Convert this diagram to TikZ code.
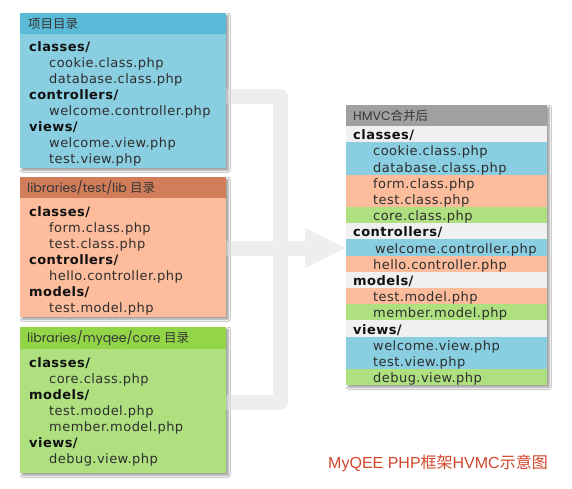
\documentclass[tikz,border=0pt]{standalone}
\usepackage{fontspec}
\setmainfont{DejaVu Sans}[LetterSpace=3.5]
\newfontfamily\cjk{Noto Sans CJK SC}
\newfontfamily\hdf{Poppins}
\newfontfamily\capf{Liberation Sans}
\usetikzlibrary{shadows.blur}
\definecolor{blueH}{HTML}{5ABAD7}
\definecolor{blueB}{HTML}{89CEE1}
\definecolor{salH}{HTML}{D27D5A}
\definecolor{salB}{HTML}{FDBC9B}
\definecolor{grnH}{HTML}{92D648}
\definecolor{grnB}{HTML}{AEE080}
\definecolor{gryH}{HTML}{A0A0A0}
\definecolor{gryB}{HTML}{F0F0F0}
\definecolor{bandc}{HTML}{EEEEEE}
\definecolor{capred}{HTML}{D2462A}
\definecolor{dirc}{HTML}{111111}
\definecolor{itmc}{HTML}{2E2E2E}
\definecolor{hdrc}{HTML}{363636}
\newcommand\rrow[4]{%
  \node[rowbg, fill=#2] (rb#1) at (346,{126+16.2*#1}) {};
  \node[#3] (rt#1) at (rb#1.west) {#4};}
\begin{document}
\begin{tikzpicture}[x=1pt,y=-1pt,
  box/.style={anchor=north west, inner sep=0, outer sep=0, minimum width=206pt,
    blur shadow={shadow xshift=2.2pt, shadow yshift=-2.2pt, shadow blur radius=2pt, shadow blur steps=6, shadow opacity=22}},
  hdr/.style={anchor=north west, inner sep=0, outer sep=0, minimum width=206pt},
  htxt/.style={anchor=west, inner sep=0, text=hdrc, font=\fontsize{12.5}{14}\hdf},
  dirt/.style={anchor=west, inner sep=0, text height=10pt, text depth=0pt, text=dirc,
    font=\fontsize{13}{15}\selectfont\bfseries},
  itm/.style={anchor=west, inner sep=0, text height=10pt, text depth=0pt, text=itmc,
    font=\fontsize{13}{15}\selectfont},
  rdir/.style={dirt, xshift=7pt, yshift=-0.5pt},
  ritm/.style={itm, xshift=27pt, yshift=-0.5pt},
  ritm2/.style={itm, xshift=29pt, yshift=-0.5pt},
  rowbg/.style={anchor=north west, inner sep=0, outer sep=0, minimum width=201pt, minimum height=16.3pt},
  bandline/.style={draw=bandc, line width=15pt, line join=round}
]
\useasboundingbox (0,0) rectangle (572,489);
\fill[white] (0,0) rectangle (572,489);

% boxes (placed first so the band can reference them)
\node[box, fill=blueB, minimum height=155pt] (p1) at (20,13) {};
\node[box, fill=salB, minimum height=140pt] (p2) at (20,177) {};
\node[box, fill=grnB, minimum height=146pt] (p3) at (20,327) {};
\node[box, fill=white, minimum width=201pt, minimum height=280pt] (R) at (346,105) {};

% band arrow
\coordinate (hb) at (305,248);
\draw[bandline] ([xshift=-20pt]p1.east |- 0,96.5) -- (280,96.5) -- (280,402) -- ([xshift=-20pt]p3.east |- 0,402);
\draw[bandline] ([xshift=-20pt]p2.east |- 0,248) -- ([xshift=1pt]hb);
\fill[bandc] (305,228) -- ([xshift=-1pt]R.west |- hb) -- (305,268) -- cycle;

% redraw boxes over band
\node[box, fill=blueB, minimum height=155pt] (q1) at (20,13) {};
\node[box, fill=salB, minimum height=140pt] (q2) at (20,177) {};
\node[box, fill=grnB, minimum height=146pt] (q3) at (20,327) {};
\node[box, fill=white, minimum width=201pt, minimum height=280pt] (q4) at (346,105) {};

% headers
\node[hdr, fill=blueH, minimum height=21pt] (h1) at (20,13) {};
\node[htxt] (t1) at (28,24) {\cjk 项目目录};
\node[hdr, fill=salH, minimum height=21pt] (h2) at (20,177) {};
\node[htxt] (t2) at (27,188) {libraries/test/lib {\cjk 目录}};
\node[hdr, fill=grnH, minimum height=22pt] (h3) at (20,327) {};
\node[htxt] (t3) at (27,338.5) {libraries/myqee/core {\cjk 目录}};
\node[hdr, fill=gryH, minimum width=201pt, minimum height=21pt] (h4) at (346,105) {};
\node[htxt] (t4) at (353,116) {HMVC{\cjk 合并后}};

% box 1
\node[dirt] (a1) at (29,47) {classes/};
\node[itm] (a2) at (49,63) {cookie.class.php};
\node[itm] (a3) at (49,79) {database.class.php};
\node[dirt] (a4) at (29,95) {controllers/};
\node[itm] (a5) at (49,111) {welcome.controller.php};
\node[dirt] (a6) at (29,127) {views/};
\node[itm] (a7) at (49,143) {welcome.view.php};
\node[itm] (a8) at (49,159) {test.view.php};

% box 2
\node[dirt] (b1) at (29,211) {classes/};
\node[itm] (b2) at (49,227) {form.class.php};
\node[itm] (b3) at (49,243) {test.class.php};
\node[dirt] (b4) at (29,259) {controllers/};
\node[itm] (b5) at (49,275) {hello.controller.php};
\node[dirt] (b6) at (29,291) {models/};
\node[itm] (b7) at (49,307) {test.model.php};

% box 3
\node[dirt] (c1) at (29,362) {classes/};
\node[itm] (c2) at (49,378) {core.class.php};
\node[dirt] (c3) at (29,394) {models/};
\node[itm] (c4) at (49,410) {test.model.php};
\node[itm] (c5) at (49,426) {member.model.php};
\node[dirt] (c6) at (29,442) {views/};
\node[itm] (c7) at (49,458) {debug.view.php};

% merged box rows
\rrow{0}{gryB}{rdir}{classes/}
\rrow{1}{blueB}{ritm}{cookie.class.php}
\rrow{2}{blueB}{ritm}{database.class.php}
\rrow{3}{salB}{ritm}{form.class.php}
\rrow{4}{salB}{ritm}{test.class.php}
\rrow{5}{grnB}{ritm}{core.class.php}
\rrow{6}{gryB}{rdir}{controllers/}
\rrow{7}{blueB}{ritm2}{welcome.controller.php}
\rrow{8}{salB}{ritm}{hello.controller.php}
\rrow{9}{gryB}{rdir}{models/}
\rrow{10}{salB}{ritm}{test.model.php}
\rrow{11}{grnB}{ritm}{member.model.php}
\rrow{12}{gryB}{rdir}{views/}
\rrow{13}{blueB}{ritm}{welcome.view.php}
\rrow{14}{blueB}{ritm}{test.view.php}
\rrow{15}{grnB}{ritm}{debug.view.php}

% caption
\node[anchor=east, inner sep=0, text=capred, font=\fontsize{16}{18}\capf] (cap) at (548,463)
  {MyQEE PHP{\cjk 框架}HVMC{\cjk 示意图}};
\end{tikzpicture}
\end{document}
